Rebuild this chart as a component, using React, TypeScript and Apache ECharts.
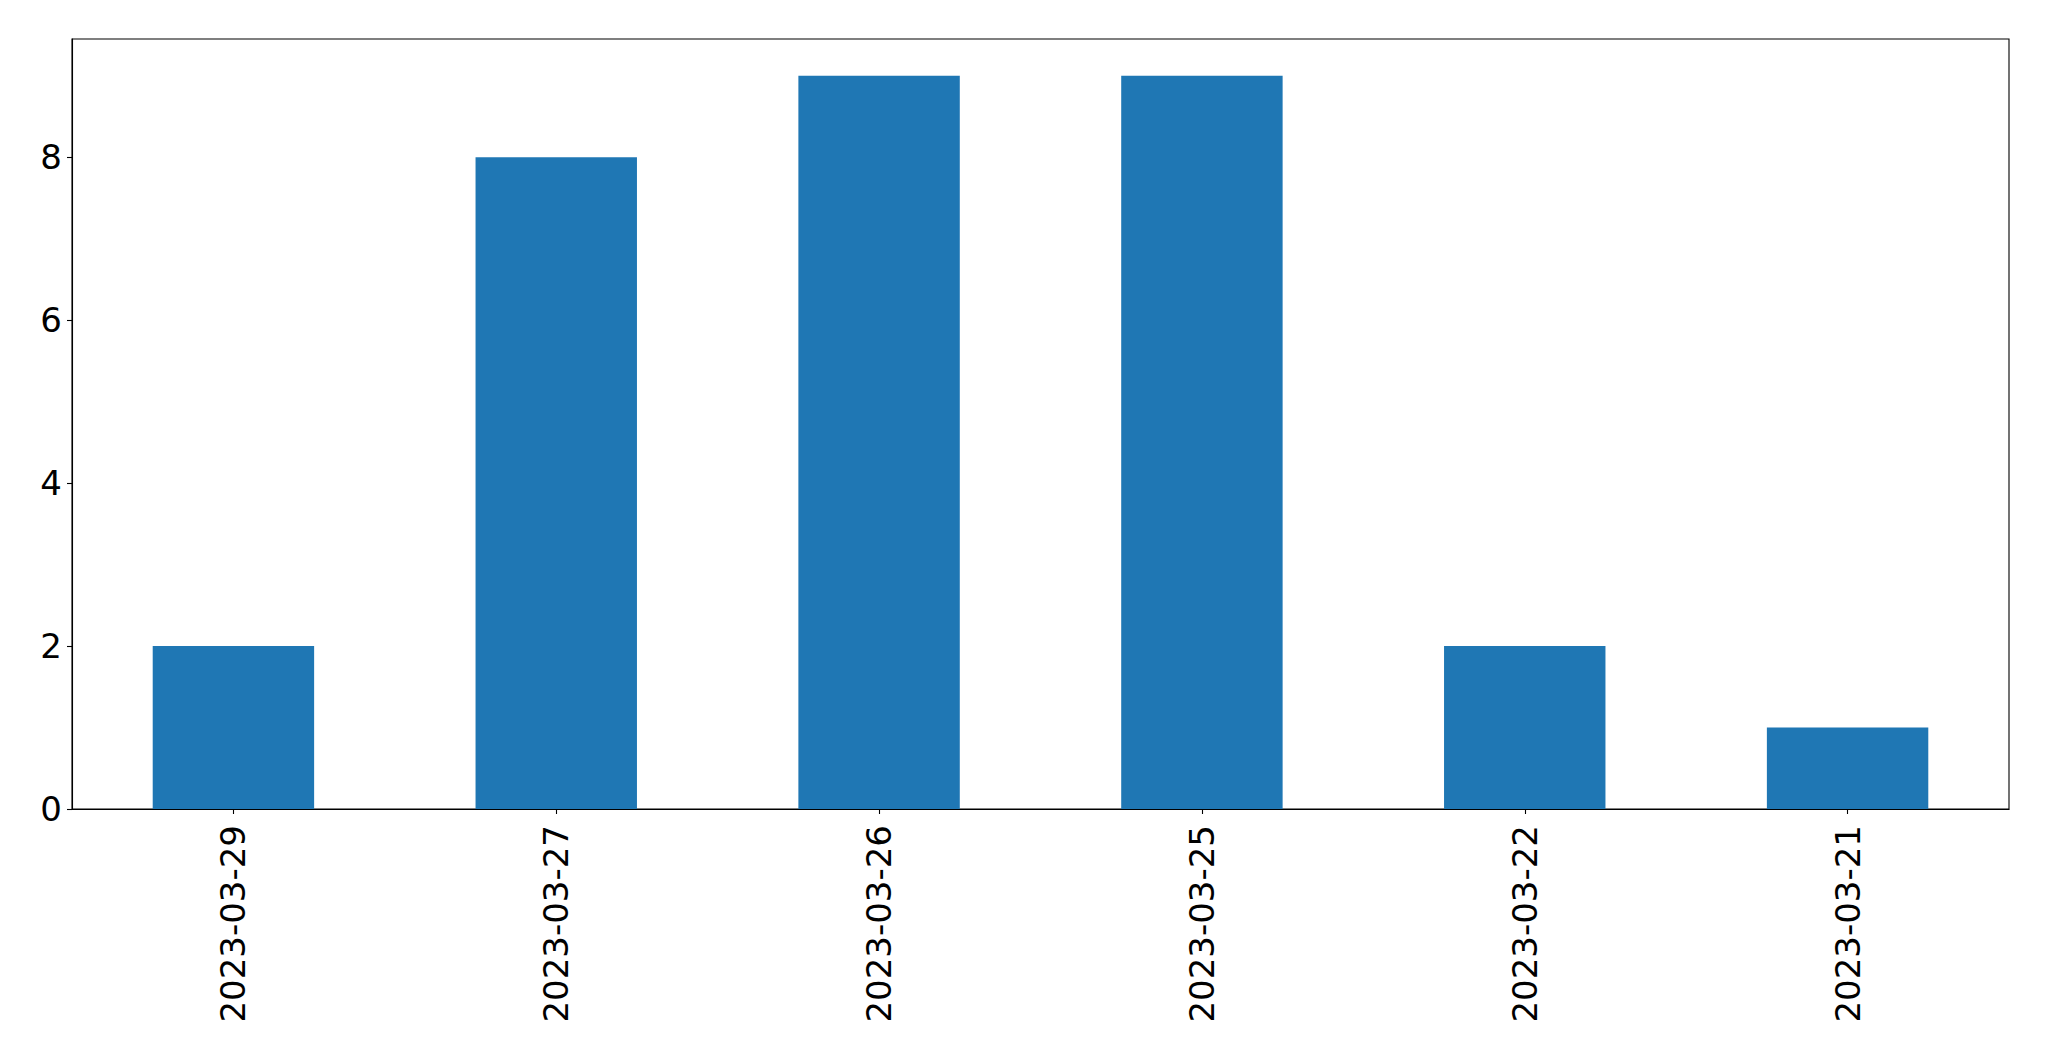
import React, { useEffect, useRef } from "react";
import * as echarts from "echarts";

const categories = ["2023-03-29", "2023-03-27", "2023-03-26", "2023-03-25", "2023-03-22", "2023-03-21"];
const values = [2, 8, 9, 9, 2, 1];
const yTicks = [0, 2, 4, 6, 8];

export default function App() {
  const ref = useRef<HTMLDivElement>(null);
  useEffect(() => {
    const chart = echarts.init(ref.current!, null, { renderer: "svg" });
    const font = "DejaVu Sans";
    chart.setOption({
      animation: false,
      backgroundColor: "#ffffff",
      grid: {
        left: 72,
        top: 39,
        right: 40,
        bottom: 252,
        show: true,
        borderColor: "#000000",
        borderWidth: 1.1,
        containLabel: false,
      },
      xAxis: {
        type: "category",
        data: categories,
        boundaryGap: true,
        axisLine: { show: true, lineStyle: { color: "#000000", width: 1.1 } },
        axisTick: { show: true, alignWithLabel: true, length: 5, lineStyle: { color: "#000000", width: 1.1 } },
        axisLabel: {
          rotate: 90,
          interval: 0,
          margin: 16,
          color: "#000000",
          fontFamily: font,
          fontSize: 34,
        },
        splitLine: { show: false },
      },
      yAxis: {
        type: "value",
        min: 0,
        max: 9.45,
        interval: 2,
        axisLine: { show: true, lineStyle: { color: "#000000", width: 1.1 } },
        axisTick: { show: true, length: 5, customValues: yTicks, lineStyle: { color: "#000000", width: 1.1 } },
        axisLabel: {
          customValues: yTicks,
          margin: 10,
          color: "#000000",
          fontFamily: font,
          fontSize: 34,
        },
        splitLine: { show: false },
      },
      series: [
        {
          type: "bar",
          data: values,
          barWidth: "50%",
          itemStyle: { color: "#1f77b4" },
        },
      ],
    });
    return () => chart.dispose();
  }, []);
  return (
    <div
      ref={ref}
      style={{ position: "fixed", left: 0, top: 0, width: 2049, height: 1061, background: "#ffffff" }}
    />
  );
}
